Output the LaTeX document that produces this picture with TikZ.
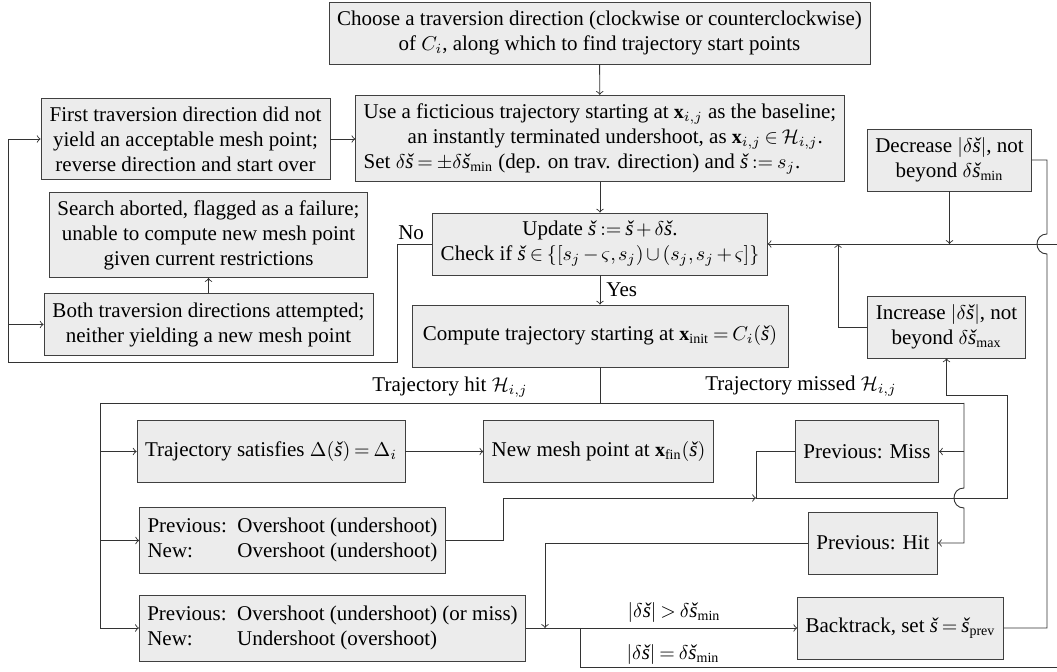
\documentclass[tikz,border=0pt]{standalone}
\usepackage{fontspec}
\setmainfont{Liberation Serif}
\DeclareMathSizes{10.5}{10}{7}{5}
\newcommand{\scar}{\mbox{\itshape š}}
\newcommand{\mysp}{\thickmuskip=3.5mu plus 2mu\medmuskip=2.5mu plus 1mu\thinmuskip=2mu}
\begin{document}
\begin{tikzpicture}[x=0.5pt,y=-0.5pt,
  box/.style={draw=black!75, fill=gray!15, inner xsep=4pt, inner ysep=4pt,
    minimum height=31pt, align=center, font=\fontsize{10.5pt}{12.5pt}\selectfont\mysp},
  lbl/.style={inner sep=2pt, font=\fontsize{10.5pt}{12.5pt}\selectfont\mysp},
  conn/.style={draw=black!80, line width=0.45pt},
  arr/.style={conn, ->}]
\useasboundingbox (0,0) rectangle (1057,672);
\clip (0,0) rectangle (1057,672);

% nodes
\node[box, minimum width=269.5pt] (top) at (599.5,33)
  {Choose a traversion direction (clockwise or counterclockwise)\\ of $C_i$, along which to find trajectory start points};
\node[box, minimum width=244pt, minimum height=42.5pt, align=left] (use) at (600,138.5)
  {Use a ficticious trajectory starting at $\mathbf{x}_{i,j}$ as the baseline;\\
   \hspace*{22pt}an instantly terminated undershoot, as $\mathbf{x}_{i,j}\in\mathcal{H}_{i,j}$.\\
   Set $\delta\scar=\pm\delta\scar_{\min}$ (dep. on trav. direction) and $\scar:=s_j$.};
\node[box, minimum width=144.5pt, minimum height=40pt] (first) at (185.5,139)
  {First traversion direction did not\\ yield an acceptable mesh point;\\ reverse direction and start over};
\node[box, minimum width=156.5pt, minimum height=42pt] (search) at (208.5,235)
  {Search aborted, flagged as a failure;\\ unable to compute new mesh point\\ given current restrictions};
\node[box, minimum width=164.5pt] (both) at (208.5,324.5)
  {Both traversion directions attempted;\\ neither yielding a new mesh point};
\node[box, minimum width=164pt] (update) at (600,244)
  {Update $\scar:=\scar+\delta\scar$.\\ Check if $\scar\in\{[s_j-\varsigma,s_j)\cup(s_j,s_j+\varsigma]\}$};
\node[box, minimum width=188pt] (compute) at (600,336)
  {Compute trajectory starting at $\mathbf{x}_{\mathrm{init}}=C_i(\scar)$};
\node[box, minimum width=81.5pt] (decrease) at (949.5,160)
  {Decrease $|\delta\scar|$, not\\ beyond $\delta\scar_{\min}$};
\node[box, minimum width=78.5pt] (increase) at (946.5,327)
  {Increase $|\delta\scar|$, not\\ beyond $\delta\scar_{\max}$};
\node[box, minimum width=130pt] (satisfies) at (271,451.5)
  {Trajectory satisfies $\Delta(\scar)=\Delta_i$};
\node[box, minimum width=114.5pt] (newmesh) at (598.5,451.5)
  {New mesh point at $\mathbf{x}_{\mathrm{fin}}(\scar)$};
\node[box, minimum width=69pt] (miss) at (867,451.5) {Previous: Miss};
\node[box, minimum width=151.5pt] (over) at (292.5,540.5)
  {\begin{tabular}{@{}l@{\ \ }l@{}}Previous: & Overshoot (undershoot)\\ New: & Overshoot (undershoot)\end{tabular}};
\node[box, minimum width=63pt] (hit) at (873,543) {Previous: Hit};
\node[box, minimum width=189.5pt] (under) at (332.5,628)
  {\begin{tabular}{@{}l@{\ \ }l@{}}Previous: & Overshoot (undershoot) (or miss)\\ New: & Undershoot (overshoot)\end{tabular}};
\node[box, minimum width=102.5pt] (backtrack) at (900.5,628)
  {Backtrack, set $\scar=\scar_{\mathrm{prev}}$};

% labels
\node[lbl, anchor=south east] (nolbl) at ([xshift=-2pt]update.west) {No};
\node[lbl] (hitlbl) at (450,387) {Trajectory hit $\mathcal{H}_{i,j}$};
\node[lbl] (misslbl) at (801,386) {Trajectory missed $\mathcal{H}_{i,j}$};
\node[lbl] (gtlbl) at (674,613) {$|\delta\scar|>\delta\scar_{\min}$};
\node[lbl] (eqlbl) at (673,655) {$|\delta\scar|=\delta\scar_{\min}$};

% coordinates
\coordinate (nL) at (397,362);
\coordinate (lx) at (8.5,362);
\coordinate (tj) at (600,403);
\coordinate (tL) at (100,403);
\coordinate (tR) at (964,403);
\coordinate (mj) at (756,498);
\coordinate (hj) at (545,628);
\coordinate (bj) at (580,628);
\coordinate (bb) at (580,667);
\coordinate (ij) at (838,244);

% connectors
\draw[arr] (top) -- (use);
\draw[arr] (first.east) -- (use.west |- first.east);
\draw[arr] (use) -- (update);
\draw[arr] (update) -- node[lbl, right, inner sep=3pt] {Yes} (compute);
\draw[arr] (both) -- (search);
\draw[arr] (update.west) -- (update.west -| nL) -- (nL) -- (lx) |- (first.west);
\draw[arr] (lx |- both.west) -- (both.west);

\draw[conn] (compute.south) -- (tj);
\draw[conn] (tL) -- (tR);
\draw[arr] (tL) |- (under.west);
\draw[arr] (tL |- satisfies.west) -- (satisfies.west);
\draw[arr] (tL |- over.west) -- (over.west);
\draw[arr] (satisfies) -- (newmesh);

\draw[arr] (tR) -- (964,488) .. controls (950.7,488) and (950.7,508) .. (964,508) |- (hit.east);
\draw[arr] (tR |- miss.east) -- (miss.east);

\draw[arr] (over.east) -- (503,540.5) -- (503,498) -- (mj);
\draw[conn] (miss.west) -| (mj);
\draw[arr] (mj) -- (1007,498) -- (1007,395) -- (946.5,395) -- (increase.south);

\draw[arr] (hit.west) -| (hj);
\draw[arr] (under.east) -- (backtrack.west);
\draw[arr] (bj) -- (bb) -- (1075,667) |- (update.east);

\draw[conn] (backtrack.east) -- (1047,628) -- (1047,254) .. controls (1033.7,254) and (1033.7,234) .. (1047,234) |- (decrease.east);
\draw[arr] (decrease.south) -- (decrease.south |- update.east);
\draw[arr] (increase.west) -| (ij);
\end{tikzpicture}
\end{document}
